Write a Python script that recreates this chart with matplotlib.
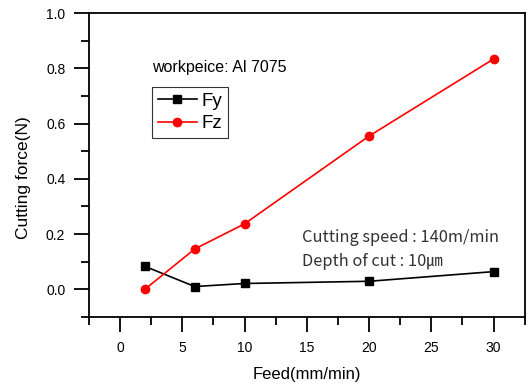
import matplotlib
matplotlib.use("Agg")
import matplotlib.pyplot as plt
from matplotlib.ticker import MultipleLocator

plt.rcParams['font.family'] = ['Liberation Sans', 'DejaVu Sans']

# data
feed = [2, 6, 10, 20, 30]
fy = [0.083, 0.010, 0.021, 0.029, 0.064]
fz = [0.000, 0.146, 0.237, 0.555, 0.834]

fig = plt.figure(figsize=(5.29, 3.86), dpi=100)
ax = fig.add_axes([0.168, 0.179, 0.824, 0.787])

ax.plot(feed, fy, color='black', marker='s', markersize=6, lw=1.2, label='Fy')
ax.plot(feed, fz, color='red', marker='o', markersize=6, lw=1.2, label='Fz')

ax.set_xlim(-2.5, 32.5)
ax.set_ylim(-0.1, 1.0)
ax.xaxis.set_major_locator(MultipleLocator(5))
ax.xaxis.set_minor_locator(MultipleLocator(2.5))
ax.yaxis.set_major_locator(MultipleLocator(0.2))
ax.yaxis.set_minor_locator(MultipleLocator(0.1))
ax.yaxis.set_major_formatter(plt.FormatStrFormatter('%.1f'))
ax.tick_params(which='major', direction='out', length=11, width=1.3, labelsize=10, pad=6)
ax.tick_params(which='minor', direction='out', length=6, width=1.3)
for s in ax.spines.values():
    s.set_linewidth(1.3)

ax.set_xlabel('Feed(mm/min)', fontsize=12)
ax.set_ylabel('Cutting force(N)', fontsize=12.5)
ax.xaxis.set_label_coords(0.5, -0.165)
ax.yaxis.set_label_coords(-0.133, 0.46)

ax.text(0.145, 0.82, 'workpeice: Al 7075', transform=ax.transAxes, fontsize=11.5,
        va='center', ha='left')
kr = ['Noto Sans CJK KR', 'DejaVu Sans']
ax.text(0.489, 0.26, 'Cutting speed : 140m/min', transform=ax.transAxes, fontsize=11.8,
        va='center', ha='left', family=kr, color='#333333')
ax.text(0.489, 0.181, 'Depth of cut : 10\u339b', transform=ax.transAxes, fontsize=11.8,
        va='center', ha='left', family=kr, color='#333333')

leg = ax.legend(loc='upper left', bbox_to_anchor=(0.145, 0.757), fontsize=13.5, frameon=True,
                fancybox=False, edgecolor='black', handlelength=2.1, borderpad=0.3,
                labelspacing=0.3, handletextpad=0.25, borderaxespad=0)
leg.get_frame().set_linewidth(0.8)

fig.savefig('out.png', dpi=100)
